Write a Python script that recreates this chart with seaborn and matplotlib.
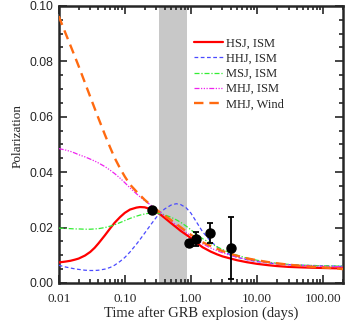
import numpy as np
import pandas as pd
import seaborn as sns
import matplotlib.pyplot as plt
from matplotlib.ticker import FixedLocator, MultipleLocator, LogLocator, NullFormatter

# model curves (time in days)
t_model = [0.01, 0.0125, 0.015, 0.0175, 0.02, 0.025, 0.03, 0.035, 0.04, 0.05, 0.06, 0.07,
           0.085, 0.1, 0.12, 0.15, 0.17, 0.2, 0.25, 0.3, 0.35, 0.4, 0.5, 0.6, 0.7, 0.85,
           1.0, 1.2, 1.5, 2, 2.5, 3, 4, 5, 7, 10, 15, 20, 30, 50, 70, 100, 150, 200]
hsj_ism = [0.0074, 0.0077, 0.0080, 0.0084, 0.0088, 0.0099, 0.0112, 0.0127, 0.0143, 0.0172,
           0.0197, 0.0217, 0.0238, 0.0253, 0.0265, 0.0272, 0.0274, 0.0273, 0.0266, 0.0256,
           0.0246, 0.0235, 0.0216, 0.0201, 0.0188, 0.0174, 0.0162, 0.0146, 0.0129, 0.0113,
           0.0103, 0.0096, 0.0088, 0.0082, 0.0075, 0.0069, 0.0064, 0.0061, 0.0058, 0.0056,
           0.0055, 0.0054, 0.0053, 0.0053]
hhj_ism = [0.0064, 0.0058, 0.0054, 0.0051, 0.0049, 0.0046, 0.0045, 0.0045, 0.0046, 0.0050,
           0.0056, 0.0064, 0.0078, 0.0092, 0.0112, 0.0140, 0.0157, 0.0180, 0.0212, 0.0237,
           0.0255, 0.0267, 0.0281, 0.0286, 0.0283, 0.0271, 0.0252, 0.0222, 0.0185, 0.0150,
           0.0130, 0.0117, 0.0101, 0.0093, 0.0084, 0.0077, 0.0072, 0.0069, 0.0066, 0.0064,
           0.0063, 0.0062, 0.0061, 0.0060]
msj_ism = [0.0198, 0.0197, 0.0196, 0.0195, 0.0195, 0.0194, 0.0194, 0.0195, 0.0196, 0.0200,
           0.0205, 0.0210, 0.0218, 0.0225, 0.0233, 0.0241, 0.0245, 0.0249, 0.0253, 0.0253,
           0.0250, 0.0246, 0.0237, 0.0228, 0.0219, 0.0205, 0.0192, 0.0176, 0.0160, 0.0143,
           0.0130, 0.0121, 0.0108, 0.0100, 0.0090, 0.0082, 0.0075, 0.0071, 0.0067, 0.0064,
           0.0063, 0.0062, 0.0061, 0.0061]
mhj_ism = [0.0485, 0.0480, 0.0475, 0.0469, 0.0463, 0.0455, 0.0447, 0.0440, 0.0433, 0.0420,
           0.0407, 0.0395, 0.0378, 0.0362, 0.0343, 0.0322, 0.0311, 0.0297, 0.0280, 0.0265,
           0.0253, 0.0242, 0.0224, 0.0209, 0.0197, 0.0182, 0.0170, 0.0156, 0.0141, 0.0126,
           0.0116, 0.0109, 0.0099, 0.0093, 0.0085, 0.0079, 0.0073, 0.0070, 0.0066, 0.0063,
           0.0061, 0.0060, 0.0059, 0.0058]
mhj_wind = [0.0963, 0.0905, 0.0858, 0.0818, 0.0783, 0.0722, 0.0672, 0.0630, 0.0594, 0.0535,
            0.0489, 0.0452, 0.0413, 0.0384, 0.0355, 0.0330, 0.0317, 0.0300, 0.0280, 0.0265,
            0.0253, 0.0243, 0.0227, 0.0213, 0.0201, 0.0186, 0.0174, 0.0161, 0.0147, 0.0133,
            0.0123, 0.0115, 0.0105, 0.0098, 0.0089, 0.0082, 0.0075, 0.0071, 0.0066, 0.0061,
            0.0058, 0.0056, 0.0053, 0.0050]

# observed polarization
t_obs = [0.26, 0.95, 1.19, 1.96, 4.04]
p_obs = [0.0264, 0.0143, 0.0159, 0.0182, 0.0125]
p_err = [0.0008, 0.0010, 0.0025, 0.0036, 0.0112]

band = (0.33, 0.87)
x_ticks = [0.01, 0.1, 1, 10, 100]
x_ticklabels = ['0.01', '0.10', '1.00', '10.00', '100.00']
y_ticks = [0.00, 0.02, 0.04, 0.06, 0.08, 0.10]

sns.set_style('ticks')
plt.rcParams['font.family'] = ['DejaVu Sans']

fig = plt.figure(figsize=(3.59, 3.26), dpi=100)
ax = fig.add_axes([0.1635, 0.132, 0.792, 0.850])

ax.axvspan(band[0], band[1], color='#c8c8c8', lw=0, zorder=0)

series = [
    ('HSJ, ISM', hsj_ism, '#ff0000', '-', 1.6),
    ('HHJ, ISM', hhj_ism, '#4a4aff', (0, (3, 2)), 0.9),
    ('MSJ, ISM', msj_ism, '#33ee33', (0, (4, 1.5, 1, 1.5)), 0.9),
    ('MHJ, ISM', mhj_ism, '#ee22ee', (0, (4, 1.2, 1, 1.2, 1, 1.2, 1, 1.2)), 0.9),
    ('MHJ, Wind', mhj_wind, '#ff6a10', (0, (4, 2.5)), 1.7),
]
for name, vals, col, ls, lw in series:
    sns.lineplot(x=t_model, y=vals, ax=ax, color=col, linestyle=ls, lw=lw,
                 label=name, zorder=3)

ax.errorbar(t_obs, p_obs, yerr=p_err, fmt='o', color='black', ms=6.5,
            elinewidth=1.3, capsize=2, capthick=1.3, zorder=5)

ax.set_xscale('log')
ax.set_xlim(0.01, 200)
ax.set_ylim(0, 0.1)
ax.xaxis.set_major_locator(FixedLocator(x_ticks))
ax.set_xticklabels(x_ticklabels, family='Liberation Serif', fontsize=9.5)
ax.xaxis.set_minor_locator(LogLocator(base=10, subs=np.arange(2, 10)))
ax.xaxis.set_minor_formatter(NullFormatter())
ax.set_yticks(y_ticks)
ax.set_yticklabels([f'{v:.2f}' for v in y_ticks], family='Liberation Sans', fontsize=8.8)
ax.yaxis.set_minor_locator(MultipleLocator(0.005))

ax.tick_params(which='both', direction='in', top=True, right=True, width=1.2)
ax.tick_params(which='major', length=6)
ax.tick_params(axis='x', pad=7)
ax.tick_params(axis='y', pad=3.5)
ax.tick_params(which='minor', length=3)
for s in ax.spines.values():
    s.set_linewidth(1.8)

ax.set_xlabel('Time after GRB explosion (days)', family='Liberation Serif', fontsize=10.5,
              labelpad=1)
ax.set_ylabel('Polarization', family='Liberation Serif', fontsize=9.5)
ax.yaxis.set_label_coords(-0.125, 0.53)

ax.legend(loc='upper left', bbox_to_anchor=(0.475, 0.885), frameon=False,
          prop={'family': 'Liberation Serif', 'size': 9}, handlelength=2.3,
          handletextpad=0.3, labelspacing=0.25, borderpad=0, borderaxespad=0)

fig.savefig('out.png', dpi=100)
